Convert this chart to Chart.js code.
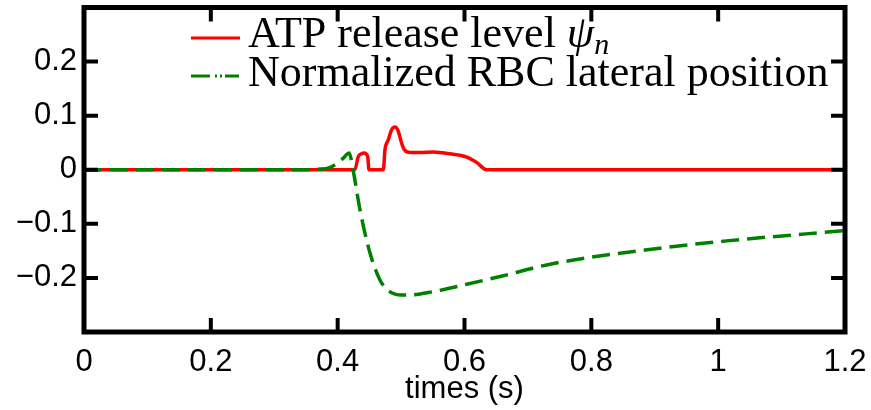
<!DOCTYPE html>
<html>
<head>
<meta charset="utf-8">
<script src="https://cdn.jsdelivr.net/npm/chart.js@4/dist/chart.umd.min.js"></script>
<style>
  html, body { margin: 0; padding: 0; background: #fff; }
  canvas { display: block; }
</style>
</head>
<body>
<canvas id="atpChart" width="871" height="410"></canvas>
<script>
// ATP release level psi_n
const atpTimes = [0, 0.427, 0.4326, 0.437, 0.4415, 0.4473, 0.4494, 0.472, 0.4746, 0.4799, 0.4851, 0.4904,
  0.4956, 0.5009, 0.5046, 0.514, 0.53, 0.5508, 0.577, 0.6034, 0.619, 0.635, 1.2];
const atpValues = [0, 0, 0.0247, 0.029, 0.0309, 0.0247, 0, 0, 0.037, 0.0556, 0.074, 0.079,
  0.071, 0.049, 0.038, 0.032, 0.032, 0.0327, 0.0296, 0.0235, 0.0136, 0, 0];

// normalized RBC lateral position
const rbcTimes = [0, 0.35, 0.372, 0.385, 0.398, 0.409, 0.418, 0.4247, 0.4352, 0.451, 0.4667, 0.4799,
  0.4983, 0.514, 0.5508, 0.6034, 0.656, 0.7348, 0.908, 1.0134, 1.2];
const rbcValues = [0, 0, 0.0012, 0.003, 0.011, 0.0216, 0.031, -0.003, -0.074, -0.154, -0.2037, -0.2235,
  -0.2315, -0.2315, -0.2253, -0.2117, -0.1975, -0.1747, -0.145, -0.1315, -0.1125];

const xTicks = [0, 0.2, 0.4, 0.6, 0.8, 1, 1.2];
const yTicks = [-0.3, -0.2, -0.1, 0, 0.1, 0.2, 0.3];

const seriesNames = ['ATP release level ', 'Normalized RBC lateral position'];

const toPoints = (xs, ys) => xs.map((x, i) => ({ x: x, y: ys[i] }));

const fmtY = v => {
  const r = Math.round(v * 10) / 10;
  if (Math.abs(r) >= 0.3) return '';
  if (r === 0) return '0';
  return r < 0 ? '\u2212' + Math.abs(r) : String(r);
};

// no extra room for half labels at the ends
const noPad = s => { s.paddingLeft = 0; s.paddingRight = 0; s.paddingTop = 0; s.paddingBottom = 0; };

// frame with inward ticks on all four sides + latex-ish legend
const framePlugin = {
  id: 'frame',
  afterDraw(chart) {
    const { ctx, chartArea: a, scales } = chart;
    const tl = 14;
    ctx.save();
    ctx.strokeStyle = '#000';
    ctx.lineWidth = 4;
    ctx.beginPath();
    xTicks.forEach(v => {
      const px = scales.x.getPixelForValue(v);
      ctx.moveTo(px, a.bottom); ctx.lineTo(px, a.bottom - tl);
      ctx.moveTo(px, a.top); ctx.lineTo(px, a.top + tl);
    });
    yTicks.forEach(v => {
      const py = scales.y.getPixelForValue(v);
      ctx.moveTo(a.left, py); ctx.lineTo(a.left + tl, py);
      ctx.moveTo(a.right, py); ctx.lineTo(a.right - tl, py);
    });
    ctx.stroke();
    ctx.lineWidth = 5;
    ctx.strokeRect(a.left, a.top, a.right - a.left, a.bottom - a.top);

    // legend
    const lx = 191, tx = 248;
    ctx.lineWidth = 3;
    ctx.strokeStyle = '#ff0000';
    ctx.beginPath(); ctx.moveTo(lx, 38); ctx.lineTo(lx + 49, 38); ctx.stroke();
    ctx.strokeStyle = '#008000';
    ctx.setLineDash([19, 5, 2, 3, 2, 3, 16]);
    ctx.beginPath(); ctx.moveTo(lx, 76); ctx.lineTo(lx + 48, 76); ctx.stroke();
    ctx.setLineDash([]);

    ctx.fillStyle = '#000';
    ctx.textBaseline = 'alphabetic';
    ctx.textAlign = 'left';
    ctx.font = '44px "Liberation Serif"';
    ctx.fillText(seriesNames[0], tx, 47);
    const w0 = ctx.measureText(seriesNames[0]).width;
    ctx.font = 'italic 44px "Liberation Serif"';
    ctx.fillText('\u03c8', tx + w0, 47);
    const wp = ctx.measureText('\u03c8').width;
    ctx.font = 'italic 30px "Liberation Serif"';
    ctx.fillText('n', tx + w0 + wp, 54);
    ctx.font = '44px "Liberation Serif"';
    ctx.fillText(seriesNames[1], tx, 86);
    ctx.restore();
  }
};

new Chart(document.getElementById('atpChart').getContext('2d'), {
  type: 'line',
  data: {
    datasets: [
      {
        label: seriesNames[0],
        data: toPoints(atpTimes, atpValues),
        borderColor: '#ff0000',
        borderWidth: 3.5,
        pointRadius: 0,
        cubicInterpolationMode: 'monotone',
        order: 2
      },
      {
        label: seriesNames[1],
        data: toPoints(rbcTimes, rbcValues),
        borderColor: '#008000',
        borderWidth: 3.5,
        borderDash: [18, 8],
        pointRadius: 0,
        cubicInterpolationMode: 'monotone',
        order: 1
      }
    ]
  },
  options: {
    responsive: false,
    animation: false,
    devicePixelRatio: 1,
    layout: { padding: { top: 7.5, right: 26, left: 0, bottom: 0 } },
    plugins: { legend: { display: false }, tooltip: { enabled: false } },
    scales: {
      x: {
        type: 'linear',
        min: 0, max: 1.2,
        afterFit: s => { s.height = 78; noPad(s); },
        afterBuildTicks: s => { s.ticks = xTicks.map(v => ({ value: v })); },
        ticks: {
          color: '#000', padding: 12, maxRotation: 0,
          font: { family: '"Liberation Sans"', size: 31 },
          callback: v => String(Math.round(v * 10) / 10)
        },
        grid: { display: false, drawTicks: false },
        border: { display: false },
        title: {
          display: true, text: 'times (s)', color: '#000',
          font: { family: '"Liberation Sans"', size: 31 },
          padding: { top: 0, bottom: 2 }
        }
      },
      y: {
        min: -0.3, max: 0.3,
        afterFit: s => { s.width = 84; noPad(s); },
        afterBuildTicks: s => { s.ticks = yTicks.map(v => ({ value: v })); },
        ticks: { color: '#000', padding: 7, font: { family: '"Liberation Sans"', size: 31 }, callback: v => fmtY(v) },
        grid: { display: false, drawTicks: false },
        border: { display: false }
      }
    }
  },
  plugins: [framePlugin]
});
</script>
</body>
</html>
